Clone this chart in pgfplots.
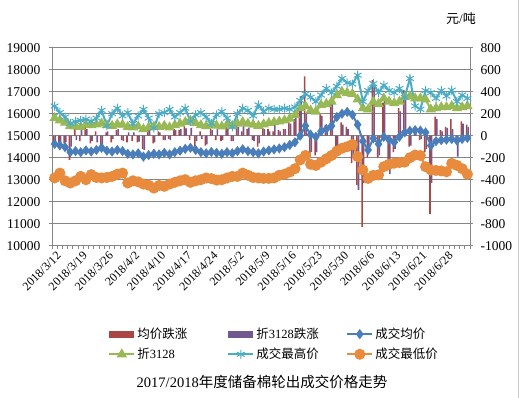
\documentclass[border=0pt]{standalone}
\usepackage{fontspec}
\setmainfont{Liberation Serif}
\newfontfamily\cjk{Noto Sans CJK SC}
\usepackage{pgfplots}
\usepackage{pgfplotstable}
\pgfplotsset{compat=1.18}
\definecolor{cred}{HTML}{AA4643}
\definecolor{cpur}{HTML}{71588F}
\definecolor{cblue}{HTML}{4A7EBB}
\definecolor{cgreen}{HTML}{98B954}
\definecolor{cteal}{HTML}{4BACC6}
\definecolor{corange}{HTML}{E88B3C}
\definecolor{cgrid}{HTML}{868686}
\pgfplotsset{
 barlegend/.style={legend image code/.code={\fill[##1] (0pt,-3.5pt) rectangle (25pt,3.5pt);}},
 linelegend/.style={legend image code/.code={\draw[##1, mark repeat=2, mark phase=2] plot coordinates {(0pt,0pt) (12.5pt,0pt) (25pt,0pt)};}}
}
\pgfplotstableread{
i avg z high low da dz
0 14620 15800 16350 13080 -60 -50
1 14560 15700 16050 13300 -60 -80
2 14480 15600 15850 12950 -70 -60
3 14250 15450 15550 12850 -220 -100
4 14300 15420 15650 12950 70 -40
5 14250 15400 15700 13150 -50 100
6 14330 15500 15750 13000 85 60
7 14280 15480 15650 13230 -70 -50
8 14350 15520 15800 13100 40 -60
9 14450 15560 16150 13080 -130 -120
10 14320 15480 15450 13100 30 40
11 14280 15450 16000 13150 -60 -30
12 14350 15520 16250 13250 50 60
13 14300 15500 15900 13300 -40 -50
14 14180 15400 16050 12850 -60 30
15 14150 15380 15550 12950 -50 30
16 14200 15420 15900 12900 -60 -55
17 14050 15300 16200 12800 -120 -130
18 14120 15380 15800 12750 60 50
19 14180 15420 15350 12620 -70 -60
20 14150 15400 16000 12740 40 30
21 14220 15450 16050 12700 -40 -40
22 14150 15380 16200 12800 -30 -40
23 14250 15480 15850 12880 60 50
24 14320 15550 16050 12950 50 60
25 14400 15620 16250 13000 90 67
26 14450 15680 15650 12880 -40 70
27 14350 15580 15950 12950 -100 -50
28 14250 15480 16050 13000 40 -30
29 14200 15430 15850 13080 -90 -80
30 14260 15500 15550 13050 60 50
31 14220 15460 15950 12980 -40 60
32 14180 15420 16100 13000 -50 -40
33 14250 15500 15800 13080 80 70
34 14200 15450 15400 13150 -50 -50
35 14300 15550 16000 13150 100 80
36 14380 15620 16250 13300 40 100
37 14300 15550 16150 13200 60 70
38 14250 15500 15900 13100 -40 -50
39 14200 15450 16400 13080 -100 -70
40 14280 15520 16100 13060 70 60
41 14330 15580 16250 13060 60 40
42 14380 15620 16200 13080 40 100
43 14420 15650 16200 13200 50 40
44 14480 15700 16250 13250 60 60
45 14580 15780 16200 13350 120 110
46 14700 15950 16300 13500 150 180
47 15000 16250 16600 13900 250 360
48 15450 16350 16900 14100 540 200
49 15050 16150 16750 13700 -190 -150
50 14950 16100 16550 13650 -180 -150
51 15200 16400 16850 13800 200 180
52 15300 16450 17150 13950 100 90
53 15450 16550 16950 14100 330 320
54 15850 16850 17250 14300 -180 -160
55 16000 17000 17600 14430 120 100
56 16080 16950 17400 14500 80 60
57 15950 16900 17350 14600 -250 -200
58 15500 16650 17750 14050 -450 -494
59 14750 16250 16550 13440 -830 -430
60 14350 16200 17050 13060 -200 -150
61 14880 16550 17370 13200 506 450
62 14620 16450 16950 13220 -200 -180
63 14950 16700 17300 13590 300 370
64 14820 16550 17050 13700 -310 -350
65 14700 16480 16950 13750 -150 -120
66 14950 16550 17150 13780 250 220
67 15150 16750 16750 13800 415 380
68 15220 16800 17600 14000 -100 -90
69 15250 16700 16350 14120 30 40
70 15230 16700 16200 14100 -40 -30
71 15150 16650 17050 13590 -150 -120
72 14550 16200 16950 13440 -712 -430
73 14750 16250 16700 13420 173 150
74 14800 16300 17050 13400 50 40
75 14820 16300 16800 13360 80 70
76 14850 16350 17070 13740 150 60
77 14780 16250 16550 13650 -60 -190
78 14850 16300 16850 13500 130 110
79 14900 16350 16700 13250 100 80
}\data
\begin{document}
\begin{tikzpicture}
\useasboundingbox (0,0) rectangle (523pt,398pt);
\begin{axis}[
 at={(52pt,152.3pt)}, anchor=south west, scale only axis, width=418pt, height=198pt,
 xmin=-0.5, xmax=79.5, ymin=-1000, ymax=800,
 axis line style={cgrid, line width=0.8pt},
 ytick={-1000,-800,...,800},
 yticklabels={{-1000},{-800},{-600},{-400},{-200},0,200,400,600,800},
 ytick pos=right,
 ymajorgrids, grid style={cgrid, line width=0.8pt},
 xtick={0,5,...,75},
 xticklabels={2018/3/12,2018/3/19,2018/3/26,2018/4/2,2018/4/10,2018/4/17,2018/4/24,2018/5/2,2018/5/9,2018/5/16,2018/5/23,2018/5/30,2018/6/6,2018/6/13,2018/6/21,2018/6/28},
 xtick pos=left,
 minor xtick={-0.5,0.5,...,79.5},
 every major x tick/.style={draw=none},
 tick align=outside, major tick length=3pt, minor tick length=3pt,
 tick style={cgrid, line width=0.8pt},
 x tick label style={rotate=45, anchor=north east, font=\fontsize{12}{12}\selectfont, inner sep=0.5pt, yshift=-2pt},
 y tick label style={font=\fontsize{13.5}{14}\selectfont, xshift=4pt},
 legend columns=3,
 legend style={draw=none, fill=none, at={(0.127,-0.395)}, anchor=north west,
   font=\fontsize{12.5}{14}\selectfont, row sep=4pt,
   /tikz/every even column/.append style={column sep=8pt}},
 legend cell align=left,
]
\addplot[ybar, bar width=1.6pt, bar shift=-0.8pt, fill=cred, draw=none, barlegend] table[x=i,y=da]{\data};
\addlegendentry{\makebox[80pt][l]{\cjk 均价跌涨}}
\addplot[ybar, bar width=1.6pt, bar shift=0.8pt, fill=cpur, draw=none, barlegend] table[x=i,y=dz]{\data};
\addlegendentry{\makebox[80pt][l]{{\cjk 折}3128{\cjk 跌涨}}}
\addlegendimage{linelegend, cblue, line width=2pt, mark=diamond*, mark size=3.5pt}
\addlegendentry{\makebox[80pt][l]{\cjk 成交均价}}
\addlegendimage{linelegend, cgreen, line width=2pt, mark=triangle*, mark size=4pt}
\addlegendentry{\makebox[80pt][l]{{\cjk 折}3128}}
\addlegendimage{linelegend, cteal, line width=2pt, mark=asterisk, mark size=4.5pt, mark options={line width=1pt}}
\addlegendentry{\makebox[80pt][l]{\cjk 成交最高价}}
\addlegendimage{linelegend, corange, line width=2pt, mark=*, mark size=4.5pt}
\addlegendentry{\makebox[80pt][l]{\cjk 成交最低价}}
\end{axis}
\begin{axis}[
 at={(52pt,152.3pt)}, anchor=south west, scale only axis, width=418pt, height=198pt,
 xmin=-0.5, xmax=79.5, ymin=10000, ymax=19000,
 scaled y ticks=false,
 axis line style={cgrid, line width=0.8pt},
 ytick={10000,11000,...,19000},
 yticklabels={10000,11000,12000,13000,14000,15000,16000,17000,18000,19000},
 ytick pos=left, xtick=\empty,
 tick align=outside, major tick length=3pt,
 tick style={cgrid, line width=0.8pt},
 y tick label style={font=\fontsize{13.5}{14}\selectfont, xshift=-5pt},
]
\addplot[cblue, line width=2pt, mark=diamond*, mark size=3.5pt] table[x=i,y=avg]{\data};
\addplot[cgreen, line width=2pt, mark=triangle*, mark size=4pt] table[x=i,y=z]{\data};
\addplot[cteal, line width=2pt, mark=asterisk, mark size=4.5pt, mark options={line width=1pt}] table[x=i,y=high]{\data};
\addplot[corange, line width=2pt, mark=*, mark size=4.5pt] table[x=i,y=low]{\data};
\end{axis}
\node[font=\fontsize{13}{14}\selectfont] at (461pt,379pt) {{\cjk 元}/{\cjk 吨}};
\node[font=\fontsize{14.5}{16}\selectfont] at (262pt,16.5pt) {2017/2018{\cjk 年度储备棉轮出成交价格走势}};
\draw[gray!40, line width=0.8pt] (518.5pt,0pt) -- (518.5pt,398pt);
\end{tikzpicture}
\end{document}
